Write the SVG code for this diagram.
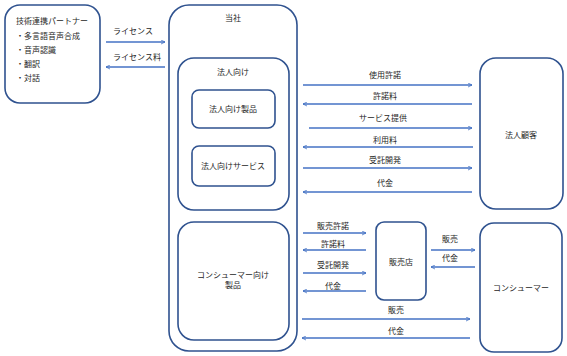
<svg xmlns="http://www.w3.org/2000/svg" width="567" height="356" viewBox="0 0 567 356">
<defs>
<marker id="ah" viewBox="0 0 10 10" refX="9" refY="5" markerWidth="5" markerHeight="5" orient="auto-start-reverse" markerUnits="userSpaceOnUse">
<path d="M1,1 L9,5 L1,9" fill="none" stroke="#4472C4" stroke-width="1.6"/>
</marker>
<style>
.box{fill:#fff;stroke:#2F528F;stroke-width:1.6}
.t{font-family:"Noto Sans CJK JP","Liberation Sans",sans-serif;font-size:8px;fill:#262626}
.m{text-anchor:middle}
.a{stroke:#4472C4;stroke-width:1.5;fill:none;marker-end:url(#ah)}
</style>
</defs>
<rect width="567" height="356" fill="#fff"/>
<g id="partner">
<rect class="box" x="5" y="5" width="95" height="98" rx="15"/>
<text class="t" x="16" y="24">技術連携パートナー</text>
<text class="t" x="16" y="39">・多言語音声合成</text>
<text class="t" x="16" y="53">・音声認識</text>
<text class="t" x="16" y="67">・翻訳</text>
<text class="t" x="16" y="81">・対話</text>
</g>
<g id="company">
<rect class="box" x="169" y="5" width="128" height="346" rx="20"/>
<text class="t m" x="233" y="21">当社</text>
</g>
<g id="corporate">
<rect class="box" x="178" y="58" width="111" height="152" rx="16"/>
<text class="t m" x="233" y="75">法人向け</text>
</g>
<g id="corp-product">
<rect class="box" x="192" y="90" width="83" height="38" rx="7"/>
<text class="t m" x="233" y="112">法人向け製品</text>
</g>
<g id="corp-service">
<rect class="box" x="192" y="146" width="83" height="40" rx="7"/>
<text class="t m" x="233" y="169">法人向けサービス</text>
</g>
<g id="consumer-product">
<rect class="box" x="178" y="222" width="111" height="118" rx="16"/>
<text class="t m" x="233" y="278">コンシューマー向け</text>
<text class="t m" x="233" y="288">製品</text>
</g>
<g id="corp-customer">
<rect class="box" x="480" y="58" width="83" height="151" rx="16"/>
<text class="t m" x="521" y="138">法人顧客</text>
</g>
<g id="shop">
<rect class="box" x="376" y="222" width="50" height="78" rx="8"/>
<text class="t m" x="401" y="265">販売店</text>
</g>
<g id="consumer">
<rect class="box" x="480" y="223" width="82" height="129" rx="14"/>
<text class="t m" x="521" y="291">コンシューマー</text>
</g>
<g id="connectors">
<line class="a" x1="106" y1="42" x2="165" y2="42"/>
<line class="a" x1="165" y1="67" x2="106" y2="67"/>
<line class="a" x1="303" y1="85" x2="472" y2="85"/>
<line class="a" x1="472" y1="104" x2="303" y2="104"/>
<line class="a" x1="309" y1="128" x2="472" y2="128"/>
<line class="a" x1="473" y1="147" x2="303" y2="147"/>
<line class="a" x1="303" y1="168" x2="472" y2="168"/>
<line class="a" x1="472" y1="192" x2="303" y2="192"/>
<line class="a" x1="303" y1="233" x2="366" y2="233"/>
<line class="a" x1="366" y1="250" x2="303" y2="250"/>
<line class="a" x1="303" y1="273" x2="366" y2="273"/>
<line class="a" x1="366" y1="291" x2="303" y2="291"/>
<line class="a" x1="431" y1="250" x2="475" y2="250"/>
<line class="a" x1="475" y1="267" x2="431" y2="267"/>
<line class="a" x1="302" y1="319" x2="470" y2="319"/>
<line class="a" x1="470" y1="338" x2="302" y2="338"/>
<text class="t m" x="133" y="34">ライセンス</text>
<text class="t m" x="137" y="60">ライセンス料</text>
<text class="t m" x="385" y="78">使用許諾</text>
<text class="t m" x="385" y="99">許諾料</text>
<text class="t m" x="383" y="121">サービス提供</text>
<text class="t m" x="385" y="143">利用料</text>
<text class="t m" x="385" y="163">受託開発</text>
<text class="t m" x="385" y="186">代金</text>
<text class="t m" x="333" y="229">販売許諾</text>
<text class="t m" x="333" y="247">許諾料</text>
<text class="t m" x="333" y="268">受託開発</text>
<text class="t m" x="333" y="289">代金</text>
<text class="t m" x="450" y="242">販売</text>
<text class="t m" x="450" y="261">代金</text>
<text class="t m" x="396" y="313">販売</text>
<text class="t m" x="396" y="334">代金</text>
</g>
</svg>
